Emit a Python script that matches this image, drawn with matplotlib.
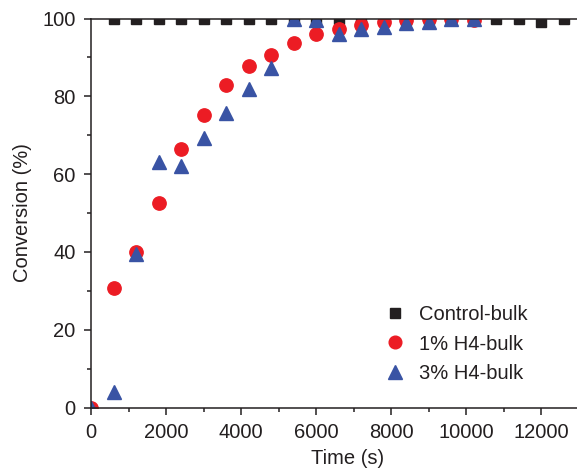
import matplotlib
matplotlib.use("Agg")
import matplotlib.pyplot as plt
from matplotlib.ticker import MultipleLocator

plt.rcParams['font.family'] = ['Liberation Sans', 'DejaVu Sans']

time_control = [600, 1200, 1800, 2400, 3000, 3600, 4200, 4800, 5400, 6000, 6600,
                7200, 7800, 8400, 9000, 9600, 10200, 10800, 11400, 12000, 12600]
conv_control = [99.9, 99.9, 99.9, 99.9, 99.9, 99.9, 99.9, 99.9, 99.9, 99.9, 99.8,
                99.7, 99.7, 99.7, 99.8, 99.9, 99.9, 99.9, 99.9, 99.0, 99.8]

time_h1 = [0, 600, 1200, 1800, 2400, 3000, 3600, 4200, 4800, 5400, 6000,
           6600, 7200, 7800, 8400, 9000, 9600, 10200]
conv_h1 = [0, 30.7, 40.1, 52.5, 66.5, 75.1, 82.9, 87.9, 90.5, 93.6, 96.1,
           97.4, 98.4, 99.2, 99.6, 99.8, 100.0, 99.6]

time_h3 = [0, 600, 1200, 1800, 2400, 3000, 3600, 4200, 4800, 5400, 6000,
           6600, 7200, 7800, 8400, 9000, 9600, 10200]
conv_h3 = [0, 4.1, 39.5, 63.2, 62.1, 69.2, 75.8, 81.9, 87.3, 100.0, 99.7,
           95.9, 97.4, 97.9, 98.8, 99.0, 100.0, 100.0]

labels = ['Control-bulk', '1% H4-bulk', '3% H4-bulk']

W, H = 577, 475
fig = plt.figure(figsize=(W / 100, H / 100), dpi=100)
x0, x1 = 91, 605
y0, y1 = 407.5, 18.5
ax = fig.add_axes([x0 / W, 1 - y0 / H, (x1 - x0) / W, (y0 - y1) / H])

ax.plot(time_control, conv_control, 's', color='#231f20', markersize=7.2,
        linestyle='none', label=labels[0])
ax.plot(time_h1, conv_h1, 'o', color='#ec1c24', markersize=9.6,
        linestyle='none', label=labels[1])
ax.plot(time_h3, conv_h3, '^', color='#3953a4', markersize=10.5,
        linestyle='none', label=labels[2])

ax.set_xlim(0, 13700)
ax.set_ylim(0, 100)
ax.xaxis.set_major_locator(MultipleLocator(2000))
ax.xaxis.set_minor_locator(MultipleLocator(1000))
ax.yaxis.set_major_locator(MultipleLocator(20))
ax.yaxis.set_minor_locator(MultipleLocator(10))

ax.spines['right'].set_visible(False)
for s in ['left', 'bottom', 'top']:
    ax.spines[s].set_linewidth(1.1)
    ax.spines[s].set_color('#231f20')

ax.tick_params(which='major', direction='out', length=5, width=1.1,
               labelsize=14.5, colors='#231f20', top=False, right=False)
ax.tick_params(axis='x', which='major', pad=6.5)
ax.tick_params(axis='y', which='major', pad=6)
ax.tick_params(which='minor', direction='out', length=3, width=1.1,
               colors='#231f20', top=False, right=False)

ax.set_xlabel('Time (s)', fontsize=14.5, color='#231f20', labelpad=5)
ax.set_ylabel('Conversion (%)', fontsize=14.5, color='#231f20', labelpad=7.5)

leg = ax.legend(loc='center left', bbox_to_anchor=(385 / W, 1 - 344 / H),
                bbox_transform=fig.transFigure, frameon=False,
                fontsize=14.5, handletextpad=0.7, labelspacing=0.52,
                handlelength=1.0, markerscale=0.95, borderpad=0, borderaxespad=0)
for t in leg.get_texts():
    t.set_color('#231f20')

fig.savefig('out.png', dpi=100)
